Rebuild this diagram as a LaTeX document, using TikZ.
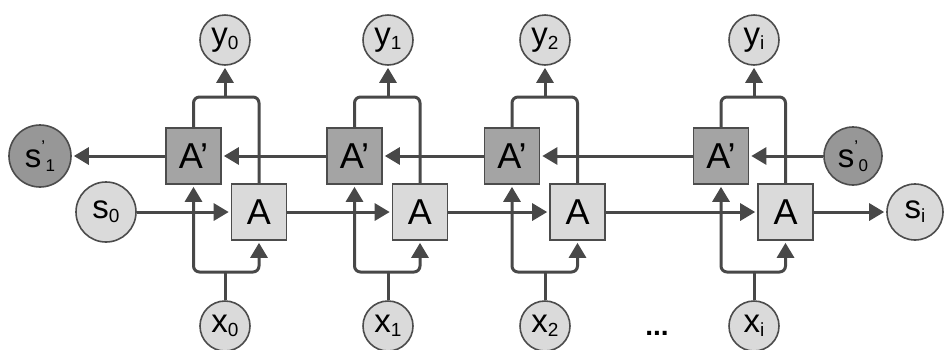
\documentclass[tikz,border=0pt]{standalone}
\usepackage{fontspec}
\setmainfont{Liberation Sans}
\usetikzlibrary{arrows.meta}
\definecolor{lightf}{HTML}{DADADA}
\definecolor{darkf}{HTML}{A4A4A4}
\definecolor{darkc}{HTML}{979797}
\definecolor{linec}{HTML}{484848}
\definecolor{edgec}{HTML}{4C4C4C}
\newcommand\sbx[1]{\raisebox{-0.12em}{\fontsize{19}{19}\selectfont #1}}
\newcommand\spsb[2]{\raisebox{0.45em}{\fontsize{17}{17}\selectfont #1}\kern0.5pt\raisebox{-0.12em}{\fontsize{17}{17}\selectfont #2}}
\begin{document}
\begin{tikzpicture}[x=1pt,y=-1pt,
  cell/.style={draw=edgec,line width=1.6pt,fill=lightf,minimum width=55pt,minimum height=56pt,inner sep=0pt,font=\fontsize{36}{38}\selectfont},
  bcell/.style={cell,fill=darkf},
  io/.style={circle,draw=edgec,line width=1.6pt,fill=lightf,minimum size=50pt,inner sep=0pt,font=\fontsize{33}{35}\selectfont},
  st/.style={io,minimum size=60pt},
  bst/.style={st,fill=darkc},
  conn/.style={draw=linec,line width=3pt,rounded corners=6pt},
  arr/.style={conn,-{Triangle[length=15pt,width=17pt]},shorten >=2pt},
  dotsty/.style={font=\bfseries\fontsize{28}{30}\selectfont,inner sep=0pt}
]
\useasboundingbox (0,0) rectangle (945,349);
% state circles
\node[bst,minimum size=62pt] (sp1) at (40,156) {s\spsb{'}{1}};
\node[st] (s0) at (106,212) {s\sbx{0}};
\node[bst,minimum size=58pt] (sp0) at (853,156) {s\spsb{'}{0}};
\node[st,minimum size=56pt] (si) at (915,212) {s\sbx{i}};
% cells
\node[bcell] (P0) at (193.5,156) {A'};
\node[cell]  (A0) at (259,212) {A};
\node[bcell] (P1) at (354.5,156) {A'};
\node[cell]  (A1) at (420,212) {A};
\node[bcell] (P2) at (512,156) {A'};
\node[cell]  (A2) at (577.5,212) {A};
\node[bcell] (P3) at (721,156) {A'};
\node[cell]  (A3) at (785.5,212) {A};
% outputs and inputs
\node[io] (y0) at (225,40) {y\sbx{0}};
\node[io] (y1) at (388,40) {y\sbx{1}};
\node[io] (y2) at (545,40) {y\sbx{2}};
\node[io] (y3) at (754,40) {y\sbx{i}};
\node[io] (x0) at (225,326) {x\sbx{0}};
\node[io] (x1) at (388,326) {x\sbx{1}};
\node[io] (x2) at (545,326) {x\sbx{2}};
\node[io] (x3) at (754,326) {x\sbx{i}};
\node[dotsty] (dots) at (657,333) {...};
% backward chain
\draw[arr] (sp0) -- (P3);
\draw[arr] (P3) -- (P2);
\draw[arr] (P2) -- (P1);
\draw[arr] (P1) -- (P0);
\draw[arr] (P0) -- (sp1);
% forward chain
\draw[arr] (s0) -- (A0);
\draw[arr] (A0) -- (A1);
\draw[arr] (A1) -- (A2);
\draw[arr] (A2) -- (A3);
\draw[arr] (A3) -- (si);
% per column
\foreach \k/\cx in {0/225,1/388,2/545,3/754}{
  \coordinate (xs\k) at (\cx,272);
  \coordinate (ym\k) at (\cx,97);
  \draw[conn] (x\k.north) -- (xs\k);
  \draw[arr] (xs\k) -| (P\k.south);
  \draw[arr] (xs\k) -| (A\k.south);
  \draw[conn] (P\k.north) |- (ym\k) -| (A\k.north);
  \draw[arr] (ym\k) -- (y\k.south);
}
\end{tikzpicture}
\end{document}
